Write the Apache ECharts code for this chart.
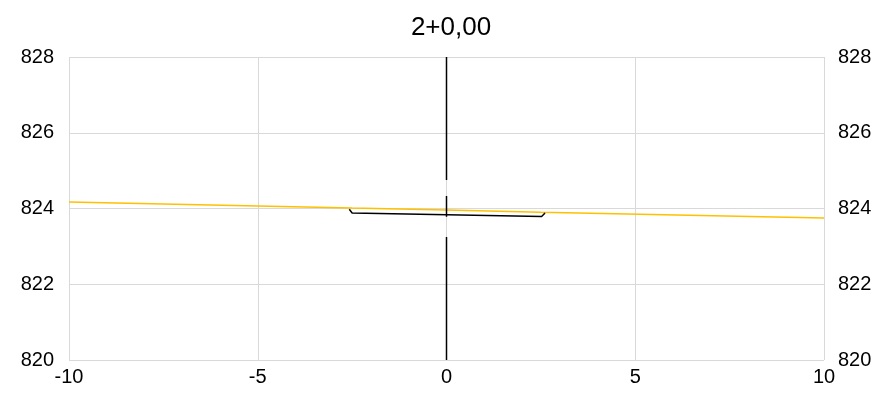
<!DOCTYPE html>
<html>
<head>
<meta charset="utf-8">
<script src="https://cdn.jsdelivr.net/npm/echarts@6/dist/echarts.min.js"></script>
<style>
html,body{margin:0;padding:0;background:#fff;}
#c{width:881px;height:393px;}
</style>
</head>
<body>
<div id="c"></div>
<script>
const title = "2+0,00";
const xTicks = [-10, -5, 0, 5, 10];
const yTicks = [820, 822, 824, 826, 828];
const groundX = [-10, -2.5, 0, 2.5, 10];
const groundY = [824.17, 824.01, 823.96, 823.9, 823.75];
const roadX = [-2.575, -2.5, 2.52, 2.61];
const roadY = [823.98, 823.88, 823.79, 823.88];
const axisX = [0, 0, null, 0, 0, null, 0, 0];
const axisY = [828, 824.75, null, 824.33, 823.78, null, 823.25, 820];

const zip = (xs, ys) => xs.map((x, i) => x === null ? [null, null] : [x, ys[i]]);

const font = 'Liberation Sans, Arial, sans-serif';
const labelStyle = { color: '#000', fontSize: 20, fontFamily: font };

const chart = echarts.init(document.getElementById('c'), null, { renderer: 'canvas' });
chart.setOption({
  animation: false,
  backgroundColor: '#fff',
  title: {
    text: title, left: 446, textAlign: 'center', top: 10,
    textStyle: { color: '#000', fontSize: 26, fontWeight: 'normal', fontFamily: font }
  },
  grid: { left: 69, right: 57, top: 57, bottom: 33, show: false },
  xAxis: {
    type: 'value', min: xTicks[0], max: xTicks[xTicks.length - 1], interval: 5,
    axisLine: { show: false }, axisTick: { show: false },
    axisLabel: Object.assign({ margin: 7 }, labelStyle),
    splitLine: { show: true, lineStyle: { color: '#d9d9d9', width: 1 } }
  },
  yAxis: [{
    type: 'value', min: yTicks[0], max: yTicks[yTicks.length - 1], interval: 2,
    axisLine: { show: false }, axisTick: { show: false },
    axisLabel: Object.assign({ margin: 15 }, labelStyle),
    splitLine: { show: true, lineStyle: { color: '#d9d9d9', width: 1 } }
  }, {
    type: 'value', position: 'right', min: yTicks[0], max: yTicks[yTicks.length - 1], interval: 2,
    axisLine: { show: false }, axisTick: { show: false },
    axisLabel: Object.assign({ margin: 14 }, labelStyle),
    splitLine: { show: false }
  }],
  series: [{
    type: 'line', data: zip(groundX, groundY), symbol: 'none',
    lineStyle: { color: '#ffc000', width: 1.5 }, z: 3
  }, {
    type: 'line', data: zip(roadX, roadY), symbol: 'none',
    lineStyle: { color: '#000', width: 1.5 }, z: 4
  }, {
    type: 'line', data: zip(axisX, axisY), symbol: 'none', connectNulls: false,
    lineStyle: { color: '#000', width: 1.5 }, z: 5
  }]
});
</script>
</body>
</html>
